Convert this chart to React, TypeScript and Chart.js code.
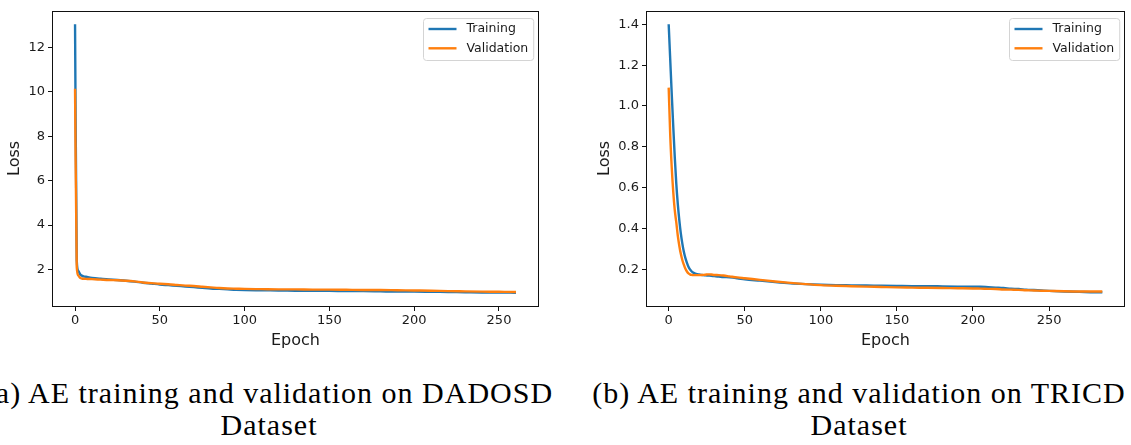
import React, { useEffect, useRef } from "react";
import { Chart, registerables } from "chart.js";

Chart.register(...registerables);

// ---------- data: (a) DADOSD ----------
const dadosdEpochs = [0, 1, 2, 3, 4, 5, 7, 10, 15, 20, 25, 30, 35, 40, 45, 50, 55, 60, 65, 70, 75, 80, 85, 90, 95, 100, 110, 120, 130, 140, 150, 160, 170, 180, 190, 200, 210, 220, 230, 240, 250, 260];
const dadosdTraining = [13.05, 2.4, 1.92, 1.78, 1.72, 1.69, 1.66, 1.62, 1.58, 1.55, 1.52, 1.49, 1.45, 1.4, 1.36, 1.32, 1.29, 1.26, 1.23, 1.2, 1.17, 1.14, 1.12, 1.1, 1.08, 1.07, 1.06, 1.05, 1.04, 1.03, 1.03, 1.02, 1.02, 1.01, 1.0, 1.0, 0.99, 0.98, 0.97, 0.96, 0.96, 0.95];
const dadosdValidation = [10.15, 2.1, 1.72, 1.62, 1.59, 1.58, 1.57, 1.56, 1.54, 1.52, 1.51, 1.49, 1.46, 1.41, 1.38, 1.35, 1.33, 1.3, 1.27, 1.25, 1.22, 1.19, 1.16, 1.14, 1.13, 1.12, 1.11, 1.1, 1.1, 1.09, 1.09, 1.08, 1.07, 1.07, 1.06, 1.05, 1.04, 1.02, 1.01, 1.0, 0.99, 0.98];
const dadosdXTicks = [0, 50, 100, 150, 200, 250];
const dadosdYTicks = [2, 4, 6, 8, 10, 12];

// ---------- data: (b) TRICD ----------
const tricdEpochs = [0, 1, 2, 3, 4, 5, 6, 7, 8, 9, 10, 11, 12, 13, 14, 15, 16, 17, 18, 20, 22, 24, 26, 28, 30, 33, 36, 40, 45, 50, 60, 70, 80, 90, 100, 110, 120, 130, 140, 150, 160, 170, 180, 190, 200, 205, 210, 215, 220, 225, 230, 235, 240, 245, 250, 260, 270, 280, 285];
const tricdTraining = [1.4, 1.23, 1.06, 0.9, 0.75, 0.62, 0.52, 0.44, 0.375, 0.325, 0.285, 0.255, 0.232, 0.213, 0.2, 0.191, 0.185, 0.181, 0.178, 0.175, 0.173, 0.171, 0.17, 0.169, 0.167, 0.165, 0.163, 0.161, 0.157, 0.152, 0.145, 0.138, 0.132, 0.128, 0.125, 0.123, 0.122, 0.121, 0.12, 0.119, 0.118, 0.118, 0.117, 0.116, 0.115, 0.115, 0.113, 0.111, 0.109, 0.106, 0.104, 0.101, 0.099, 0.097, 0.095, 0.092, 0.09, 0.088, 0.088];
const tricdValidation = [1.09, 0.86, 0.7, 0.58, 0.49, 0.43, 0.365, 0.315, 0.275, 0.245, 0.222, 0.203, 0.19, 0.181, 0.176, 0.173, 0.172, 0.172, 0.172, 0.172, 0.173, 0.174, 0.176, 0.175, 0.173, 0.172, 0.17, 0.166, 0.161, 0.157, 0.149, 0.141, 0.134, 0.128, 0.123, 0.12, 0.118, 0.116, 0.114, 0.112, 0.111, 0.11, 0.109, 0.108, 0.107, 0.106, 0.105, 0.104, 0.102, 0.101, 0.1, 0.098, 0.097, 0.096, 0.095, 0.093, 0.092, 0.092, 0.092];
const tricdXTicks = [0, 50, 100, 150, 200, 250];
const tricdYTicks = [0.2, 0.4, 0.6, 0.8, 1.0, 1.2, 1.4];

const seriesLabels = ["Training", "Validation"];
const captionA = ["(a) AE training and validation on DADOSD", "Dataset"];
const captionB = ["(b) AE training and validation on TRICD", "Dataset"];

const BLUE = "#1f77b4";
const ORANGE = "#ff7f0e";
const TEXT = "#1a1a1a";
const FONT = "DejaVu Sans";

const framePlugin = {
  id: "mplFrame",
  afterDatasetsDraw(chart: any) {
    const { ctx, chartArea: a } = chart;
    ctx.save();
    ctx.strokeStyle = "#111";
    ctx.lineWidth = 1;
    const l = Math.round(a.left) - 0.5;
    const t = Math.round(a.top) + 0.5;
    const r = Math.round(a.right) + 0.5;
    const b = Math.round(a.bottom) + 0.5;
    ctx.strokeRect(l, t, r - l, b - t);
    ctx.restore();
  },
};

const legendPlugin = {
  id: "mplLegend",
  afterDraw(chart: any) {
    const { ctx, chartArea: a } = chart;
    ctx.save();
    ctx.font = `12.5px "${FONT}"`;
    const items = chart.data.datasets.map((d: any) => ({ label: d.label, color: d.borderColor }));
    const textW = Math.max(...items.map((i: any) => ctx.measureText(i.label).width));
    const boxW = 5 + 28 + 10 + textW + 5.5;
    const boxH = 42;
    const x0 = Math.round(a.right - 5 - boxW) + 0.5;
    const y0 = Math.round(a.top + 7) + 0.5;
    const rad = 3;
    ctx.beginPath();
    ctx.moveTo(x0 + rad, y0);
    ctx.lineTo(x0 + boxW - rad, y0);
    ctx.quadraticCurveTo(x0 + boxW, y0, x0 + boxW, y0 + rad);
    ctx.lineTo(x0 + boxW, y0 + boxH - rad);
    ctx.quadraticCurveTo(x0 + boxW, y0 + boxH, x0 + boxW - rad, y0 + boxH);
    ctx.lineTo(x0 + rad, y0 + boxH);
    ctx.quadraticCurveTo(x0, y0 + boxH, x0, y0 + boxH - rad);
    ctx.lineTo(x0, y0 + rad);
    ctx.quadraticCurveTo(x0, y0, x0 + rad, y0);
    ctx.closePath();
    ctx.fillStyle = "rgba(255,255,255,0.8)";
    ctx.fill();
    ctx.strokeStyle = "#d4d4d4";
    ctx.lineWidth = 1;
    ctx.stroke();
    items.forEach((it: any, i: number) => {
      const cy = y0 + 10.5 + i * 19.3;
      ctx.beginPath();
      ctx.moveTo(x0 + 5, cy);
      ctx.lineTo(x0 + 33, cy);
      ctx.strokeStyle = it.color;
      ctx.lineWidth = 2.4;
      ctx.stroke();
      ctx.fillStyle = TEXT;
      ctx.textBaseline = "middle";
      ctx.textAlign = "left";
      ctx.fillText(it.label, x0 + 43, cy);
    });
    ctx.restore();
  },
};

type PanelProps = {
  left: number;
  width: number;
  height: number;
  yAxisWidth: number;
  padRight: number;
  epochs: number[];
  training: number[];
  validation: number[];
  xMin: number;
  xMax: number;
  yMin: number;
  yMax: number;
  xTicks: number[];
  yTicks: number[];
  yDecimals: number;
};

function LossPanel(p: PanelProps) {
  const ref = useRef<HTMLCanvasElement>(null);
  useEffect(() => {
    if (!ref.current) return;
    const tickFont = { family: FONT, size: 13 };
    const titleFont = { family: FONT, size: 16 };
    const chart = new Chart(ref.current, {
      type: "line",
      data: {
        datasets: [
          {
            label: seriesLabels[0],
            data: p.epochs.map((e, i) => ({ x: e, y: p.training[i] })),
            borderColor: BLUE,
            backgroundColor: BLUE,
            borderWidth: 2.4,
            pointRadius: 0,
            cubicInterpolationMode: "monotone",
            order: 1,
          },
          {
            label: seriesLabels[1],
            data: p.epochs.map((e, i) => ({ x: e, y: p.validation[i] })),
            borderColor: ORANGE,
            backgroundColor: ORANGE,
            borderWidth: 2.4,
            pointRadius: 0,
            cubicInterpolationMode: "monotone",
            order: 0,
          },
        ],
      },
      options: {
        animation: false,
        responsive: false,
        maintainAspectRatio: false,
        events: [],
        layout: { padding: { top: 5, right: p.padRight, left: 0, bottom: 0 } },
        plugins: { legend: { display: false }, tooltip: { enabled: false } },
        scales: {
          x: {
            type: "linear",
            min: p.xMin,
            max: p.xMax,
            afterBuildTicks: (s: any) => {
              s.ticks = p.xTicks.map((v) => ({ value: v }));
            },
            afterFit: (s: any) => {
              s.height = p.height - 306;
            },
            border: { display: false },
            grid: { display: true, drawOnChartArea: false, drawTicks: true, tickLength: 5, color: "#111", lineWidth: 1 },
            ticks: { font: tickFont, color: TEXT, padding: 2, maxRotation: 0, autoSkip: false, callback: (v: any) => String(v) },
            title: { display: true, text: "Epoch", font: titleFont, color: TEXT, padding: { top: 0, bottom: 10 } },
          },
          y: {
            type: "linear",
            min: p.yMin,
            max: p.yMax,
            afterBuildTicks: (s: any) => {
              s.ticks = p.yTicks.map((v) => ({ value: v }));
            },
            afterFit: (s: any) => {
              s.width = p.yAxisWidth;
            },
            border: { display: false },
            grid: { display: true, drawOnChartArea: false, drawTicks: true, tickLength: 5, color: "#111", lineWidth: 1 },
            ticks: { font: tickFont, color: TEXT, padding: 3, autoSkip: false, callback: (v: any) => Number(v).toFixed(p.yDecimals) },
            title: { display: true, text: "Loss", font: titleFont, color: TEXT, padding: { top: 5.4, bottom: 0 } },
          },
        },
      },
      plugins: [framePlugin, legendPlugin],
    } as any);
    return () => chart.destroy();
  }, []);
  return (
    <canvas
      ref={ref}
      width={p.width}
      height={p.height}
      style={{ position: "absolute", left: p.left, top: 0, width: p.width, height: p.height }}
    />
  );
}

function Caption({ center, lines }: { center: number; lines: string[] }) {
  return (
    <div
      style={{
        position: "absolute",
        left: center - 400,
        width: 800,
        top: 377,
        textAlign: "center",
        fontFamily: '"Liberation Serif", serif',
        fontSize: 30,
        lineHeight: "32px",
        letterSpacing: "1px",
        whiteSpace: "nowrap",
        color: "#000",
      }}
    >
      {lines.map((l, i) => (
        <div key={i}>{l}</div>
      ))}
    </div>
  );
}

export default function App() {
  return (
    <div style={{ position: "absolute", left: 0, top: 0, width: 1131, height: 445, overflow: "hidden", background: "#fff" }}>
      <LossPanel
        left={0}
        width={570}
        height={360}
        yAxisWidth={53}
        padRight={32}
        epochs={dadosdEpochs}
        training={dadosdTraining}
        validation={dadosdValidation}
        xMin={-13}
        xMax={273}
        yMin={0.35}
        yMax={13.66}
        xTicks={dadosdXTicks}
        yTicks={dadosdYTicks}
        yDecimals={0}
      />
      <LossPanel
        left={590}
        width={541}
        height={360}
        yAxisWidth={57}
        padRight={7}
        epochs={tricdEpochs}
        training={tricdTraining}
        validation={tricdValidation}
        xMin={-14.25}
        xMax={299.25}
        yMin={0.021}
        yMax={1.466}
        xTicks={tricdXTicks}
        yTicks={tricdYTicks}
        yDecimals={1}
      />
      <Caption center={269} lines={captionA} />
      <Caption center={859} lines={captionB} />
    </div>
  );
}
